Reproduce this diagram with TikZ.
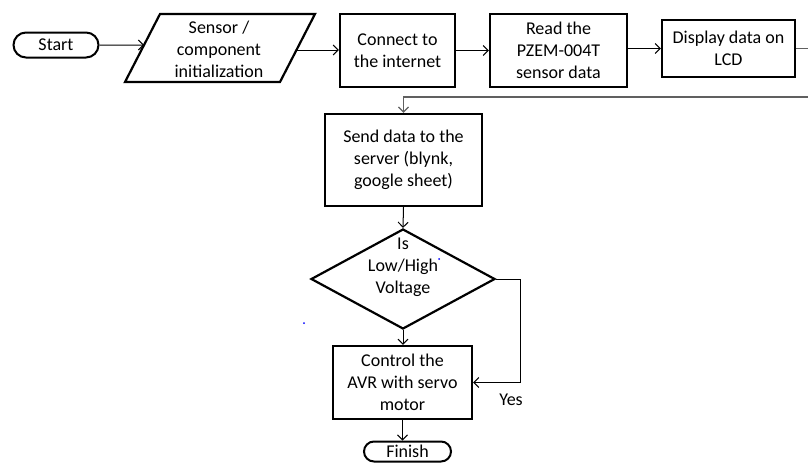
\documentclass[tikz,border=0pt]{standalone}
\usepackage{fontspec}
\setmainfont{Carlito}
\usetikzlibrary{shapes.geometric,shapes.misc,arrows.meta}
\begin{document}
\begin{tikzpicture}[x=1pt,y=-1pt,
  txt/.style={align=center, font=\fontsize{18}{22}\selectfont, inner sep=1pt},
  box/.style={txt, draw, line width=2.2pt, rectangle},
  term/.style={txt, draw, line width=2pt, rounded rectangle, minimum height=25pt},
  conn/.style={line width=1pt, -{Straight Barb[length=5pt,width=10pt]}},
  back/.style={conn, draw=gray!75!black, line width=1.3pt}]
\useasboundingbox (0,0) rectangle (808,463);

\node[term, minimum width=87pt] (start) at (56,45) {Start};

\coordinate (p1) at (125,82);
\coordinate (p2) at (160,14);
\coordinate (p3) at (315,14);
\coordinate (p4) at (280,82);
\draw[line width=2.2pt, line join=miter] (p1) -- (p2) -- (p3) -- (p4) -- cycle;
\node[txt] (init) at (219,49.5) {Sensor /\\component\\initialization};
\coordinate (initL) at (144,45);
\coordinate (initR) at (296.5,50);

\node[box, minimum width=115pt, minimum height=73pt] (conn) at (397.5,50.5) {Connect to\\the internet};
\node[box, minimum width=137pt, minimum height=73pt] (read) at (558.5,50.5) {Read the\\PZEM-004T\\sensor data};
\node[box, minimum width=133pt, minimum height=57pt] (disp) at (728.5,48.5) {Display data on\\LCD};

\node[box, minimum width=157pt, minimum height=92pt] (send) at (403.5,160) {Send data to the\\server (blynk,\\google sheet)};

\node[draw, diamond, line width=2.2pt, minimum width=184pt, minimum height=100pt, inner sep=0pt] (dec) at (403,279) {};
\node[txt] (dect) at (403,267) {Is\\Low/High\\Voltage};

\node[box, minimum width=139pt, minimum height=73pt] (ctrl) at (402.5,382.5) {Control the\\AVR with servo\\motor};
\node[term, minimum width=87pt, minimum height=20pt, inner sep=0pt] (fin) at (407.5,451.5) {Finish};

\node[txt] (yes) at (511,400) {Yes};

\fill[blue] (439,259) circle (1pt);
\fill[blue] (304,323) circle (1pt);

\draw[conn] (start) -- (initL);
\draw[conn] (initR) -- (conn.west |- initR);
\draw[conn] (conn.east) -- (read.west |- conn.east);
\draw[conn] (read.east |- disp.west) -- (disp.west);
\draw[back] (disp.east) -- (830,48.5) -- (830,97) -| (send.north);
\draw[conn] (send.south) -- (dec.north);
\draw[conn] (dec.south) -- (dec.south |- ctrl.north);
\draw[conn] (dec.east) -- ++(24,0) |- (ctrl.east);
\draw[conn] (ctrl.south -| fin.north) ++(-5,0) -- ([xshift=-5pt]fin.north);
\end{tikzpicture}
\end{document}
